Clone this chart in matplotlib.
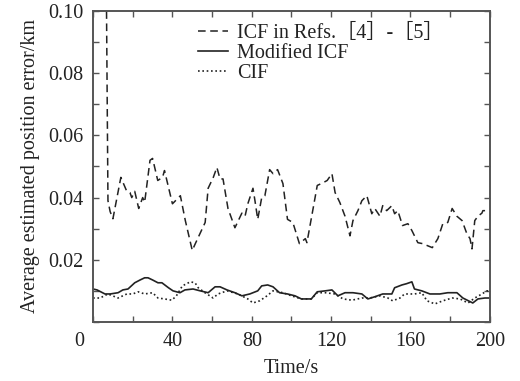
import matplotlib
matplotlib.use("Agg")
import matplotlib.pyplot as plt
import matplotlib.transforms as mtransforms
from matplotlib.ticker import MultipleLocator

plt.rcParams['font.family'] = ['Liberation Serif', 'Noto Sans CJK SC', 'DejaVu Serif']
plt.rcParams['font.size'] = 14.5

# ICF in Refs.[4]-[5] (dashed), starts off-scale at t=5
t_icf = [5, 7.5, 8.6, 10, 14, 17, 18.6, 19.5, 21, 23, 25, 26, 28.7, 30, 32.6, 35, 36,
         40, 44, 46.5, 50, 51.4, 56.5, 58, 60.6, 62.4, 64, 65.5, 68, 71.5, 75, 76.6,
         78, 80.6, 81.6, 83, 85, 86.6, 89, 90.7, 93, 95.7, 98, 100.7, 104, 107, 107.8,
         111, 113, 116, 118, 120.4, 122, 124.4, 127, 129.5, 131, 133.5, 135.5, 138,
         140.5, 142, 144.6, 146, 148, 150.6, 152, 153.6, 156, 158.7, 160.7, 163.7, 166,
         168.7, 171, 173.8, 176.3, 178.8, 181, 183.4, 186, 188.4, 190, 191, 192.4, 194,
         196, 196.5, 200]
v_icf = [0.25, 0.039, 0.0355, 0.0332, 0.0465, 0.042, 0.0416, 0.040, 0.042, 0.0365, 0.040,
         0.0385, 0.052, 0.0526, 0.0455, 0.0465, 0.0487, 0.038, 0.0406, 0.0326, 0.023,
         0.025, 0.032, 0.043, 0.0465, 0.0497, 0.046, 0.046, 0.0365, 0.0303, 0.035, 0.034,
         0.038, 0.043, 0.039, 0.033, 0.040, 0.0406, 0.049, 0.0477, 0.049, 0.0445, 0.033,
         0.032, 0.0252, 0.0268, 0.0255, 0.0368, 0.0439, 0.0448, 0.0455, 0.0477, 0.0416,
         0.0384, 0.034, 0.0277, 0.0326, 0.0358, 0.039, 0.0406, 0.0348, 0.0365, 0.034,
         0.0374, 0.0358, 0.0374, 0.0348, 0.0358, 0.031, 0.0316, 0.0294, 0.0255, 0.0252,
         0.0245, 0.0239, 0.0268, 0.0316, 0.032, 0.0365, 0.034, 0.0326, 0.0284, 0.0268,
         0.0235, 0.0326, 0.034, 0.035, 0.0358, 0.0358]

# Modified ICF (solid)
t_mod = [0, 2, 6, 8.6, 12.6, 15, 17.6, 21, 23.7, 26, 27.7, 30, 32.7, 34.7, 38, 40.3,
         43.8, 46.3, 50.4, 54, 58, 61.5, 64, 67.5, 71.5, 75, 79, 83, 85, 88, 90.7, 94,
         98, 101.8, 105, 110, 113, 117, 120.4, 123.4, 127, 131, 135.5, 138.5, 142, 146,
         150.6, 152, 155.7, 158, 160.7, 162, 165.7, 169.8, 174.8, 178.8, 183.4, 186.4,
         191.4, 194, 197.5, 200]
v_mod = [0.0106, 0.0103, 0.009, 0.009, 0.0094, 0.0103, 0.0106, 0.0126, 0.0135, 0.0142,
         0.0142, 0.0135, 0.0126, 0.0126, 0.011, 0.010, 0.0094, 0.0103, 0.0106, 0.010,
         0.0094, 0.0113, 0.0113, 0.0103, 0.0094, 0.0084, 0.009, 0.010, 0.0116, 0.0119,
         0.0113, 0.0094, 0.009, 0.0084, 0.0074, 0.0074, 0.0097, 0.010, 0.0103, 0.0084,
         0.0094, 0.0094, 0.009, 0.0074, 0.0081, 0.009, 0.009, 0.011, 0.0119, 0.0123,
         0.0129, 0.0106, 0.010, 0.009, 0.009, 0.0094, 0.0094, 0.0077, 0.0061, 0.0074,
         0.0077, 0.0077]

# CIF (dotted)
t_cif = [0, 3.5, 7.5, 12.6, 17, 20, 22.7, 26, 30, 32.7, 36, 39.7, 42, 45, 49, 51.4, 53,
         56.4, 60.5, 63, 67.5, 73, 78, 80.6, 84, 87.7, 90.7, 95.7, 100, 105, 110, 113,
         117, 122, 126, 130.5, 135.5, 139.5, 144.6, 148.6, 151, 154.7, 157, 162, 165.7,
         168.3, 172.3, 176.3, 181, 185, 189, 192.4, 196, 198.5, 200]
v_cif = [0.0077, 0.0077, 0.009, 0.0077, 0.009, 0.009, 0.0097, 0.009, 0.0094, 0.0077,
         0.0074, 0.007, 0.0084, 0.0116, 0.0129, 0.0126, 0.011, 0.0094, 0.0077, 0.009,
         0.010, 0.009, 0.0074, 0.0061, 0.0068, 0.0084, 0.010, 0.0094, 0.0084, 0.0074,
         0.0074, 0.0094, 0.0094, 0.009, 0.0074, 0.007, 0.0077, 0.0077, 0.0084, 0.0077,
         0.0068, 0.0077, 0.009, 0.009, 0.0094, 0.0068, 0.0058, 0.0068, 0.0077, 0.0074,
         0.0061, 0.0077, 0.009, 0.010, 0.010]

labels = ['ICF in Refs.［4］-［5］', 'Modified ICF', 'CIF']
x_ticks = [0, 40, 80, 120, 160, 200]
y_ticks = [0.02, 0.04, 0.06, 0.08, 0.10]

ink = '#222222'
fig = plt.figure(figsize=(5.2, 3.81), dpi=100)
ax = fig.add_axes([0.179, 0.155, 0.763, 0.816])

ax.plot(t_icf, v_icf, color=ink, lw=1.1, dashes=(5, 3), label=labels[0])
ax.plot(t_mod, v_mod, color=ink, lw=1.2, label=labels[1])
ax.plot(t_cif, v_cif, color=ink, lw=1.2, dashes=(1, 1.6), label=labels[2])

ax.set_xlim(0, 200)
ax.set_ylim(0, 0.10)
ax.set_xticks(x_ticks)
ax.set_yticks(y_ticks)
ax.set_yticklabels(['%.2f' % v for v in y_ticks])
ax.xaxis.set_minor_locator(MultipleLocator(20))
ax.yaxis.set_minor_locator(MultipleLocator(0.01))
ax.tick_params(which='both', direction='in', top=True, right=True, colors='#555555',
               labelcolor=ink, width=1.0)
ax.tick_params(which='major', length=4, pad=7)
ax.tick_params(which='minor', length=4)
for sp in ax.spines.values():
    sp.set_color('#555555')
    sp.set_linewidth(1.4)

# the "0" label sits left of the axis in the original
lab0 = ax.get_xticklabels()[0]
lab0.set_transform(lab0.get_transform() + mtransforms.ScaledTranslation(-14 / 100, 0, fig.dpi_scale_trans))

ax.set_xlabel('Time/s', color=ink, labelpad=6)
ax.set_ylabel('Average estimated position error/km', color=ink, labelpad=6)

leg = ax.legend(loc='upper left', bbox_to_anchor=(198 / 520, 1 - 24 / 381),
                bbox_transform=fig.transFigure, frameon=False, borderpad=0,
                handlelength=1.5, handletextpad=0.45, labelspacing=0.05,
                borderaxespad=0)
for t in leg.get_texts():
    t.set_color(ink)

fig.savefig('out.png', dpi=100)
